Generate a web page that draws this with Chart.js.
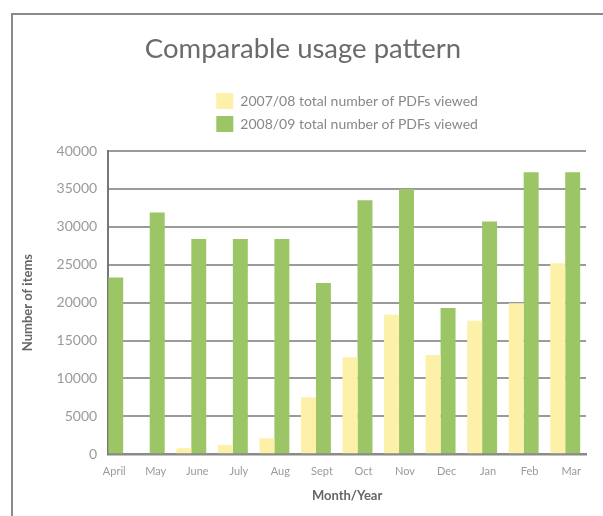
<!DOCTYPE html>
<html>
<head>
<meta charset="utf-8">
<script src="https://cdn.jsdelivr.net/npm/chart.js@4"></script>
<style>
  html, body { margin: 0; padding: 0; background: #fff; }
  #wrap { position: relative; width: 603px; height: 516px; }
  #frame {
    position: absolute; left: 11px; top: 13px; right: 0; bottom: 0;
    border-top: 2px solid #8a8a8a; border-left: 2px solid #8a8a8a;
  }
  #usageChart { position: absolute; left: 0; top: 0; }
</style>
</head>
<body>
<div id="wrap">
  <div id="frame"></div>
  <canvas id="usageChart" width="603" height="516"></canvas>
</div>
<script>
// month labels along the bottom
const months = ['April', 'May', 'June', 'July', 'Aug', 'Sept', 'Oct', 'Nov', 'Dec', 'Jan', 'Feb', 'Mar'];

// PDFs viewed per month
const views0708 = [0, 0, 800, 1200, 2100, 7500, 12800, 18400, 13100, 17600, 19900, 25200];
const views0809 = [23300, 31900, 28400, 28400, 28400, 22600, 33500, 35000, 19300, 30700, 37200, 37200];

const seriesNames = ['2007/08 total number of PDFs viewed', '2008/09 total number of PDFs viewed'];

Chart.defaults.font.family = 'Lato, "Open Sans", sans-serif';
Chart.defaults.color = '#999';

// x is a linear index so April can sit right on the y axis like the original
const toPoints = (arr) => arr.map((v, i) => ({ x: i, y: v }));

// a bit of extra room under the legend (v4 legend has no afterFit hook, so wrap fit)
const legendGap = {
  id: 'legendGap',
  beforeLayout(chart) {
    const lg = chart.legend;
    if (lg && !lg._gapSet) {
      const fit = lg.fit;
      lg.fit = function () {
        fit.call(this);
        this.height += 9;
      };
      lg._gapSet = true;
    }
  }
};

const ctx = document.getElementById('usageChart').getContext('2d');
new Chart(ctx, {
  type: 'bar',
  data: {
    datasets: [
      {
        label: seriesNames[0],
        data: toPoints(views0708),
        backgroundColor: '#fdf0a8',
        categoryPercentage: 0.72,
        barPercentage: 1
      },
      {
        label: seriesNames[1],
        data: toPoints(views0809),
        backgroundColor: '#9cc566',
        categoryPercentage: 0.72,
        barPercentage: 1
      }
    ]
  },
  options: {
    responsive: false,
    animation: false,
    layout: { padding: { left: 20, right: 17, top: 0, bottom: 12 } },
    scales: {
      x: {
        type: 'linear',
        offset: false,
        min: 0,
        max: 11.5,
        grid: { display: false, offset: false },
        border: { display: true, color: '#8a8a8a', width: 2.5 },
        ticks: {
          stepSize: 1,
          autoSkip: false,
          includeBounds: false,
          maxRotation: 0,
          labelOffset: 6,
          padding: 3,
          color: '#9a9a9a',
          font: { size: 11 },
          callback: (v) => months[v] ?? ''
        },
        title: {
          display: true,
          text: 'Month/Year',
          color: '#666',
          font: { size: 13, weight: 'bold' },
          padding: { top: 7, bottom: 0 }
        }
      },
      y: {
        min: 0,
        max: 40000,
        grid: { color: '#9a9a9a', lineWidth: 2, drawTicks: false },
        border: { display: true, color: '#777', width: 2 },
        ticks: {
          stepSize: 5000,
          padding: 11,
          color: '#9a9a9a',
          font: { size: 14 },
          callback: (v) => String(v)
        },
        title: {
          display: true,
          text: 'Number of items',
          color: '#666',
          font: { size: 13, weight: 'bold' },
          padding: { top: 0, bottom: 10 }
        }
      }
    },
    plugins: {
      title: {
        display: true,
        text: 'Comparable usage pattern',
        color: '#6b6b6b',
        font: { size: 27.5, weight: 'normal' },
        padding: { top: 33, bottom: 20 }
      },
      legend: {
        position: 'top',
        fullSize: false,
        labels: {
          boxWidth: 17,
          boxHeight: 16,
          padding: 7,
          color: '#888',
          font: { size: 14 }
        }
      },
      tooltip: { enabled: false }
    }
  },
  plugins: [legendGap]
});
</script>
</body>
</html>
